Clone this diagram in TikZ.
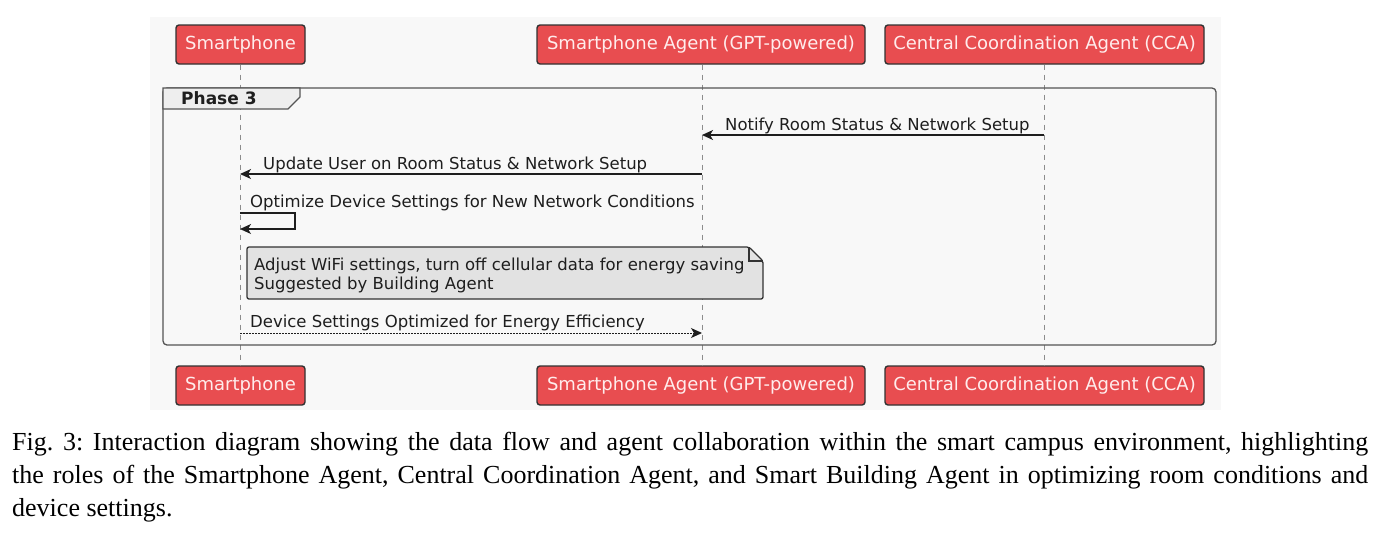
\documentclass[tikz,border=0pt]{standalone}
\usepackage{fontspec}
\setmainfont{Liberation Serif}
\newfontfamily\diag{DejaVu Sans}
\usetikzlibrary{arrows.meta}
\definecolor{bgc}{RGB}{248,248,248}
\definecolor{partfill}{RGB}{232,77,80}
\definecolor{parttext}{RGB}{255,236,236}
\definecolor{partborder}{RGB}{50,50,50}
\definecolor{framec}{RGB}{85,85,85}
\definecolor{tabfill}{RGB}{238,238,238}
\definecolor{notefill}{RGB}{226,226,226}
\definecolor{lifec}{RGB}{140,140,140}
\definecolor{msgc}{RGB}{30,30,30}
\tikzset{
  part/.style={draw=partborder, line width=1.4pt, fill=partfill, rounded corners=3pt,
    minimum height=39pt, inner xsep=0pt, text=parttext, font=\diag\fontsize{18}{20}\selectfont},
  life/.style={draw=lifec, line width=0.9pt, dash pattern=on 5pt off 5pt},
  msg/.style={draw=msgc, line width=1.3pt, -{Stealth[length=11pt,width=10pt,inset=3pt]}},
  reply/.style={draw=msgc, line width=1pt, dash pattern=on 1.5pt off 1.5pt, -{Stealth[length=11pt,width=10pt,inset=3pt]}},
  lbl/.style={font=\diag\fontsize{16.5}{19}\selectfont, text=msgc, anchor=base west, inner sep=0pt},
}
\begin{document}
\begin{tikzpicture}[x=1pt,y=-1pt]
\useasboundingbox (0,0) rectangle (1380,539);
\fill[white] (0,0) rectangle (1380,539);
\fill[bgc] (150,17) rectangle (1221,410);
% participants
\node[part, minimum width=129pt] (p1t) at (240.5,44.5) {Smartphone};
\node[part, minimum width=328pt] (p2t) at (701,44.5) {Smartphone Agent (GPT-powered)};
\node[part, minimum width=319pt] (p3t) at (1044.5,44.5) {Central Coordination Agent (CCA)};
\node[part, minimum width=129pt] (p1b) at (240.5,385.5) {Smartphone};
\node[part, minimum width=328pt] (p2b) at (701,385.5) {Smartphone Agent (GPT-powered)};
\node[part, minimum width=319pt] (p3b) at (1044.5,385.5) {Central Coordination Agent (CCA)};
% lifelines
\draw[life] (p1t.south -| 240,0) -- (p1b.north -| 240,0);
\draw[life] (p2t.south -| 702,0) -- (p2b.north -| 702,0);
\draw[life] (p3t.south -| 1044,0) -- (p3b.north -| 1044,0);
% phase frame
\draw[framec, line width=1.3pt, rounded corners=4pt] (163,88) rectangle (1216,345);
\draw[framec, line width=1.3pt, fill=tabfill] (163,88) -- (300,88) -- (300,97) -- (288,109) -- (163,109) -- cycle;
\node[font=\diag\bfseries\fontsize{17}{19}\selectfont, text=msgc, anchor=base west, inner sep=0pt] (ph) at (181,104) {Phase 3};
% message 1
\coordinate (m1a) at (1044,135);
\coordinate (m1b) at (702,135);
\draw[msg] (m1a) -- (m1b);
\node[lbl] (l1) at (725,130) {Notify Room Status \& Network Setup};
% message 2
\coordinate (m2a) at (702,174);
\coordinate (m2b) at (240,174);
\draw[msg] (m2a) -- (m2b);
\node[lbl] (l2) at (263,169) {Update User on Room Status \& Network Setup};
% self message
\coordinate (m3a) at (240,213);
\coordinate (m3b) at (240,229);
\draw[msg] (m3a) -- (295,213) -- (295,229) -- (m3b);
\node[lbl] (l3) at (250,207) {Optimize Device Settings for New Network Conditions};
% note
\draw[partborder, line width=1.3pt, fill=notefill, rounded corners=2pt]
  (247,247) -- (749,247) -- (763,261) -- (763,299) -- (247,299) -- cycle;
\draw[partborder, line width=1.1pt] (749,247) -- (749,261) -- (763,261);
\node[lbl] (n1) at (254,270) {Adjust WiFi settings, turn off cellular data for energy saving};
\node[lbl] (n2) at (254,289) {Suggested by Building Agent};
% reply
\coordinate (m4a) at (240,333);
\coordinate (m4b) at (702,333);
\draw[reply] (m4a) -- (m4b);
\node[lbl] (l4) at (250,327) {Device Settings Optimized for Energy Efficiency};
% caption
\node[anchor=north west, inner sep=0pt, text width=1356pt, align=justify] (cap) at (12,432)
  {\frenchspacing\fontsize{26}{33}\selectfont Fig. 3: Interaction diagram showing the data flow and agent collaboration within the smart campus environment, highlighting\linebreak the roles of the Smartphone Agent, Central Coordination Agent, and Smart Building Agent in optimizing room conditions and\linebreak device settings.\par};
\end{tikzpicture}
\end{document}
